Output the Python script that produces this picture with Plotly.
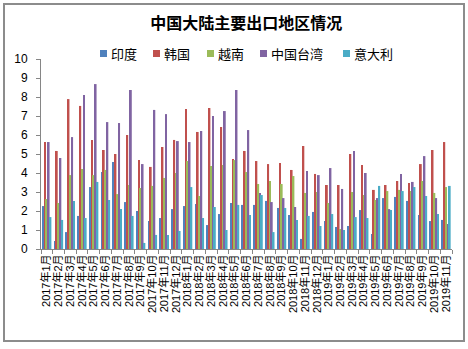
import plotly.graph_objects as go

months = [f"{y}年{m}月" for y, ms in ((2017, range(1, 13)), (2018, range(1, 13)), (2019, range(1, 12))) for m in ms]

india = [2.26, 0.42, 0.89, 1.74, 3.26, 4.05, 4.58, 2.47, 2.00, 1.47, 1.63, 2.10, 2.26, 2.37,
         1.26, 1.84, 2.42, 2.32, 2.32, 2.53, 2.16, 1.79, 0.53, 1.95, 1.47, 1.16, 1.21, 2.05,
         0.79, 2.68, 2.74, 2.53, 1.79, 1.47, 1.53]
korea = [5.63, 5.16, 7.89, 7.53, 5.74, 5.21, 5.00, 6.00, 4.68, 4.32, 5.37, 5.74, 7.37, 6.16,
         7.42, 6.42, 4.74, 5.16, 4.63, 4.47, 4.53, 4.16, 5.42, 3.95, 3.37, 3.37, 5.00, 4.42,
         3.11, 3.37, 3.58, 3.47, 4.47, 5.21, 5.63]
vietnam = [2.63, 2.42, 3.89, 4.21, 3.89, 4.16, 2.89, 3.37, 3.21, 3.32, 3.74, 4.00, 4.63, 2.79,
           4.37, 4.42, 4.68, 4.05, 3.42, 3.58, 3.42, 3.84, 2.95, 3.00, 2.42, 1.05, 3.00, 2.84,
           2.58, 3.05, 3.11, 3.05, 3.58, 2.95, 3.26]
taiwan = [5.63, 4.79, 5.89, 8.10, 8.68, 6.68, 6.63, 8.37, 4.47, 7.32, 7.10, 5.68, 5.63, 6.21,
          7.00, 7.26, 8.37, 6.26, 2.95, 2.47, 2.68, 2.21, 4.10, 3.89, 4.26, 3.16, 5.16, 4.00,
          2.68, 2.10, 3.95, 3.53, 4.89, 2.68, 1.32]
italy = [1.68, 1.53, 2.53, 1.63, 3.53, 2.58, 2.10, 1.74, 0.32, 0.74, 0.74, 0.95, 3.26, 1.63,
         2.21, 1.00, 2.32, 1.79, 2.84, 0.89, 2.16, 1.53, 1.74, 1.21, 1.84, 1.00, 1.68, 1.63,
         3.32, 2.05, 3.05, 3.26, 2.79, 1.84, 3.32]

series_names = ["印度", "韩国", "越南", "中国台湾", "意大利"]
series_vals = [india, korea, vietnam, taiwan, italy]
series_colors = ["#4F81BD", "#C0504D", "#9BBB59", "#8064A2", "#4BACC6"]

FONT = "Liberation Sans, Arial, Noto Sans CJK SC, sans-serif"
CJK = "Noto Sans CJK SC, sans-serif"

fig = go.Figure()
for name, vals, col in zip(series_names, series_vals, series_colors):
    fig.add_trace(go.Bar(x=months, y=vals, name=name, showlegend=False,
                         marker=dict(color=col, line=dict(width=0))))

# plot area in pixels: x 41..452, y 59..249
PX0, PX1, PY0, PY1 = 41, 452, 59, 249
def px(x):
    return (x - PX0) / (PX1 - PX0)
def py(y):
    return (PY1 - y) / (PY1 - PY0)

# legend (squares + labels)
legend_x = [100, 153, 207, 260, 343]
shapes = [dict(type="rect", xref="paper", yref="paper",
               x0=px(4), x1=px(464), y0=py(341), y1=py(4),
               line=dict(color="#8C8C8C", width=2), fillcolor="rgba(0,0,0,0)", layer="below")]
annotations = []
for lx, name, col in zip(legend_x, series_names, series_colors):
    shapes.append(dict(type="rect", xref="paper", yref="paper",
                       x0=px(lx), x1=px(lx + 7), y0=py(57), y1=py(50),
                       line=dict(width=0), fillcolor=col))
    annotations.append(dict(xref="paper", yref="paper", x=px(lx + 9), y=py(53.5),
                            text=name, showarrow=False, xanchor="left", yanchor="middle",
                            font=dict(size=13, family=CJK, color="#000")))

fig.update_layout(
    width=468, height=349,
    margin=dict(l=PX0, r=468 - PX1, t=PY0, b=349 - PY1),
    paper_bgcolor="white", plot_bgcolor="white",
    barmode="group", bargap=0.23, bargroupgap=0,
    font=dict(family=FONT, color="#000000", size=12),
    showlegend=False,
    title=dict(text="<b>中国大陆主要出口地区情况</b>", x=0.526, xanchor="center",
               y=1 - 23 / 349, yanchor="middle", yref="container",
               font=dict(size=16, family=CJK, color="#000")),
    xaxis=dict(type="category", tickmode="array", tickvals=months, ticktext=months,
               tickangle=-90, showline=True, linecolor="#868686", linewidth=1,
               ticks="outside", ticklen=4, tickcolor="#868686", tickson="boundaries",
               tickfont=dict(size=11, family=FONT), showgrid=False, zeroline=False,
               range=[-0.5, len(months) - 0.5]),
    yaxis=dict(range=[0, 10], dtick=1, showline=True, linecolor="#868686", linewidth=1,
               ticks="outside", ticklen=4, tickcolor="#868686", showgrid=False, zeroline=False,
               tickfont=dict(size=12, family=FONT), ticklabelstandoff=6),
    shapes=shapes,
    annotations=annotations,
)

fig.write_html("out.html")
